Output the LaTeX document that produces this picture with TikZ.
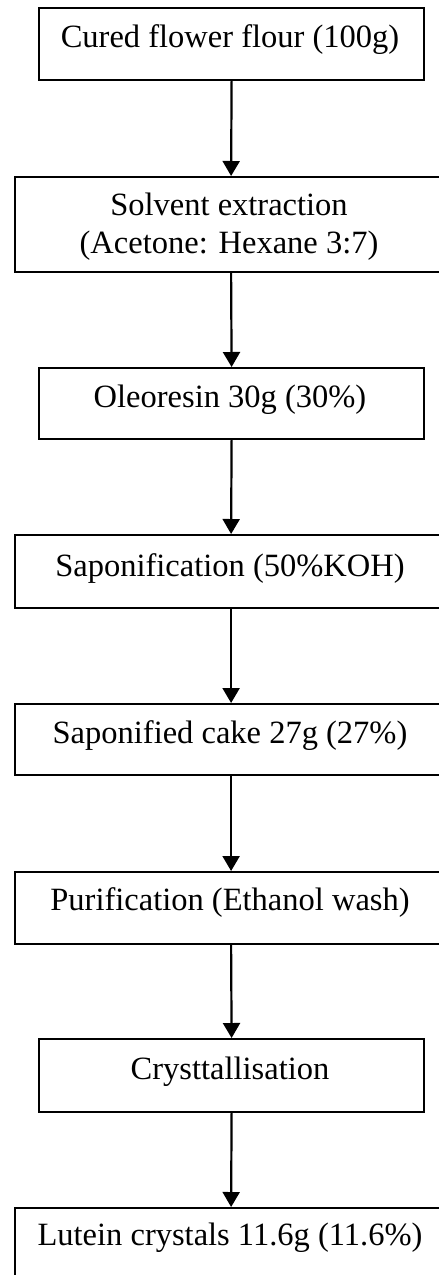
\documentclass[tikz,border=0pt]{standalone}
\usepackage{fontspec}
\setmainfont{Liberation Serif}
\usetikzlibrary{arrows.meta}
\begin{document}
\begin{tikzpicture}[x=1pt,y=-1pt,
  box/.style={draw=black,line width=2.2pt,rectangle,inner sep=0pt,anchor=north west},
  narrowbox/.style={box,minimum width=385pt},
  widebox/.style={box,minimum width=432pt},
  label/.style={anchor=base,inner sep=0pt,font=\fontsize{32.5}{38}\selectfont},
  flow/.style={line width=2.2pt,-{Triangle[width=17pt,length=15pt]}}]
  \clip (0,0) rectangle (439,1275);
  % process boxes
  \node[narrowbox,minimum height=72pt] (b1) at (38,7) {};
  \node[widebox,minimum height=95pt]   (b2) at (14,176) {};
  \node[narrowbox,minimum height=71pt] (b3) at (38,367) {};
  \node[widebox,minimum height=73pt]   (b4) at (14,534) {};
  \node[widebox,minimum height=71pt]   (b5) at (14,703) {};
  \node[widebox,minimum height=72pt]   (b6) at (14,871) {};
  \node[narrowbox,minimum height=73pt] (b7) at (38,1038) {};
  \node[widebox,minimum height=80pt]   (b8) at (14,1207) {};
  % step labels
  \node[label] (t1)  at (230,47)   {Cured flower flour (100g)};
  \node[label] (t2a) at (229,215)  {Solvent extraction};
  \node[label] (t2b) at (229,253)  {(Acetone: Hexane 3:7)};
  \node[label] (t3)  at (230,407)  {Oleoresin 30g (30\%)};
  \node[label] (t4)  at (230,576)  {Saponification (50\%KOH)};
  \node[label] (t5)  at (230,743)  {Saponified cake 27g (27\%)};
  \node[label] (t6)  at (230,910)  {Purification (Ethanol wash)};
  \node[label] (t7)  at (230,1079) {Crysttallisation};
  \node[label] (t8)  at (230,1245) {Lutein crystals 11.6g (11.6\%)};
  % flow arrows
  \draw[flow] (b1.south) -- (b2.north);
  \draw[flow] (b2.south) -- (b3.north);
  \draw[flow] (b3.south) -- (b4.north);
  \draw[flow] (b4.south) -- (b5.north);
  \draw[flow] (b5.south) -- (b6.north);
  \draw[flow] (b6.south) -- (b7.north);
  \draw[flow] (b7.south) -- (b8.north);
\end{tikzpicture}
\end{document}
